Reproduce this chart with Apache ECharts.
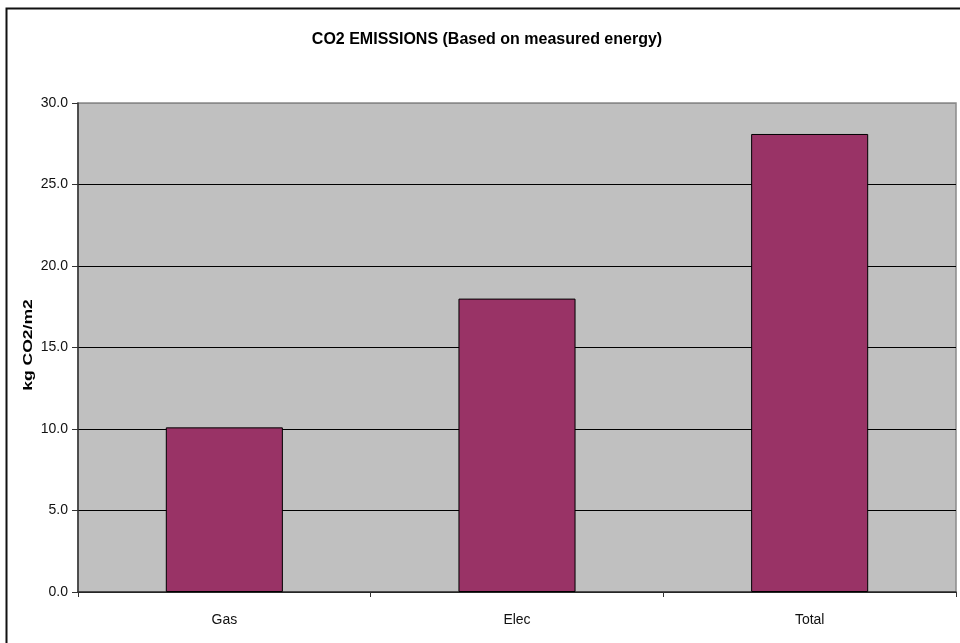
<!DOCTYPE html>
<html>
<head>
<meta charset="utf-8">
<title>CO2 EMISSIONS</title>
<script src="https://cdn.jsdelivr.net/npm/echarts@6/dist/echarts.min.js"></script>
<style>
  html, body { margin: 0; padding: 0; background: #fff; }
  #chart { width: 960px; height: 643px; }
</style>
</head>
<body>
<div id="chart"></div>
<script>
// Emission categories and values (kg CO2 per m2)
const categories = ['Gas', 'Elec', 'Total'];
const emissions = [10.1, 18.0, 28.1];
const yTicks = { min: 0, max: 30, interval: 5 };
const yAxisTitle = 'kg CO2/m2';

const chart = echarts.init(document.getElementById('chart'));

chart.setOption({
  animation: false,
  backgroundColor: '#ffffff',
  textStyle: { fontFamily: 'Liberation Sans, Arial, sans-serif' },
  title: {
    text: 'CO2 EMISSIONS (Based on measured energy)',
    left: 482,
    textAlign: 'center',
    top: 27,
    textStyle: { fontSize: 16, fontWeight: 'bold', color: '#000' }
  },
  graphic: [
    {
      // outer chart frame
      type: 'rect',
      left: 4, top: 6,
      shape: { width: 1000, height: 1000 },
      style: { fill: 'none', stroke: '#111', lineWidth: 2 },
      silent: true
    },
    {
      // vertical axis title, stretched along its length
      type: 'text',
      x: 28, y: 345,
      rotation: Math.PI / 2,
      scaleX: 1.35,
      style: {
        text: yAxisTitle,
        font: 'bold 13px "Liberation Sans", Arial, sans-serif',
        fill: '#000',
        align: 'center',
        verticalAlign: 'middle'
      },
      silent: true
    }
  ],
  grid: {
    left: 78, right: 4, top: 103, bottom: 51,
    show: true,
    backgroundColor: '#c0c0c0',
    borderColor: '#8a8a8a',
    borderWidth: 1.5
  },
  xAxis: {
    type: 'category',
    data: categories,
    axisLine: { lineStyle: { color: '#333', width: 1.5 } },
    axisTick: { show: true, length: 5, lineStyle: { color: '#333' } },
    axisLabel: { color: '#111', fontSize: 14, margin: 21 }
  },
  yAxis: {
    type: 'value',
    min: yTicks.min, max: yTicks.max, interval: yTicks.interval,
    axisLine: { show: true, lineStyle: { color: '#333', width: 1.5 } },
    axisTick: { show: true, length: 6, lineStyle: { color: '#333' } },
    axisLabel: {
      color: '#111', fontSize: 14, margin: 10,
      formatter: v => v.toFixed(1)
    },
    splitLine: {
      show: true,
      lineStyle: { color: ['#000', '#000', '#000', '#000', '#000', '#000', '#8a8a8a'], width: 1 }
    }
  },
  series: [{
    type: 'bar',
    data: emissions,
    barWidth: '40%',
    itemStyle: { color: '#993366', borderColor: '#000', borderWidth: 1 }
  }]
});
</script>
</body>
</html>
